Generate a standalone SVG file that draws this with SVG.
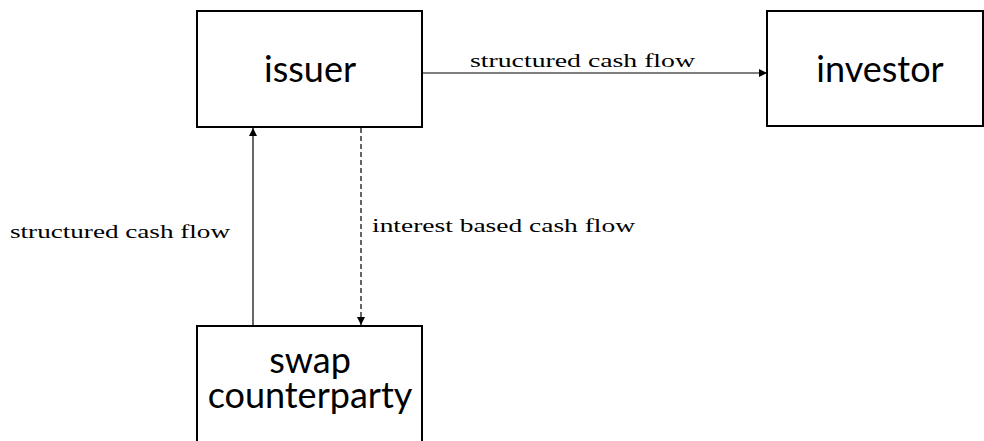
<svg xmlns="http://www.w3.org/2000/svg" width="984" height="441" viewBox="0 0 984 441">
  <style>
    .box { fill: #ffffff; stroke: #000000; stroke-width: 2; }
    .name { font-family: Lato, "Open Sans", sans-serif; font-size: 36px; fill: #000000; text-anchor: middle; }
    .flow { stroke: #000000; stroke-width: 1.2; fill: none; }
    .dash { stroke-dasharray: 5 3; }
    .lbl { font-family: "Liberation Serif", "Times New Roman", serif; font-size: 18px; fill: #000000; }
  </style>
  <defs>
    <marker id="head" viewBox="0 0 10 10" refX="10" refY="5" markerWidth="8" markerHeight="8" markerUnits="userSpaceOnUse" orient="auto">
      <path d="M0,0 L10,5 L0,10 Z" fill="#000000"/>
    </marker>
  </defs>
  <rect width="984" height="441" fill="#ffffff"/>

  <g id="connectors">
    <line class="flow" x1="422" y1="73" x2="767" y2="73" marker-end="url(#head)"/>
    <line class="flow" x1="253" y1="326" x2="253" y2="128" marker-end="url(#head)"/>
    <line class="flow dash" x1="361" y1="128" x2="361" y2="325" marker-end="url(#head)"/>
    <text class="lbl" x="470" y="67" textLength="225" lengthAdjust="spacingAndGlyphs">structured cash flow</text>
    <text class="lbl" x="10" y="238" textLength="220" lengthAdjust="spacingAndGlyphs">structured cash flow</text>
    <text class="lbl" x="372" y="232" textLength="263" lengthAdjust="spacingAndGlyphs">interest based cash flow</text>
  </g>

  <g id="issuer">
    <rect class="box" x="197" y="11" width="225" height="116"/>
    <text class="name" x="310" y="82">issuer</text>
  </g>

  <g id="investor">
    <rect class="box" x="767" y="11" width="216" height="115"/>
    <text class="name" x="880" y="82">investor</text>
  </g>

  <g id="swap-counterparty">
    <rect class="box" x="197" y="326" width="225" height="130"/>
    <text class="name"><tspan x="310" y="373">swap</tspan><tspan x="310" y="408">counterparty</tspan></text>
  </g>
</svg>
